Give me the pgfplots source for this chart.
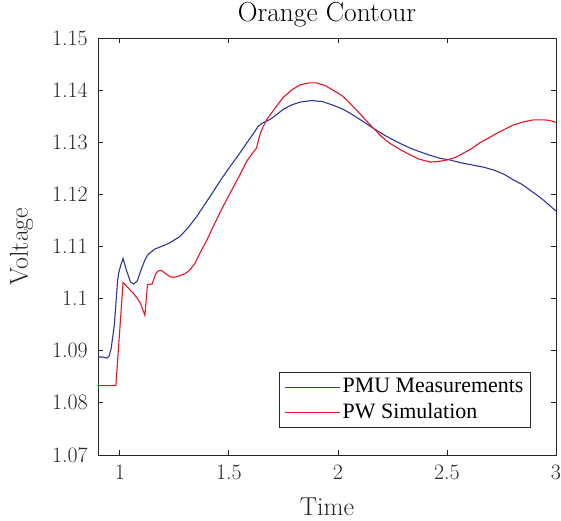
\documentclass[border=0pt]{standalone}
\usepackage{pgfplots}
\pgfplotsset{compat=1.18}
\usepackage{fontspec}
\newfontfamily\timesfont{Liberation Serif}
\definecolor{pmublue}{RGB}{45,55,155}
\definecolor{pwred}{RGB}{232,20,35}
\definecolor{axgray}{RGB}{38,38,38}
\begin{document}
\fontsize{21.5}{24}\selectfont
\begin{tikzpicture}
\begin{axis}[
  at={(0,0)}, anchor=south west,
  scale only axis,
  width=458bp, height=417bp,
  xmin=0.9, xmax=3, ymin=1.07, ymax=1.15,
  xtick={1,1.5,2,2.5,3},
  ytick={1.07,1.08,1.09,1.1,1.11,1.12,1.13,1.14,1.15},
  yticklabels={1.07,1.08,1.09,1.1,1.11,1.12,1.13,1.14,1.15},
  xticklabels={1,1.5,2,2.5,3},
  tick align=inside,
  major tick length=5bp,
  axis line style={axgray, line width=0.8bp},
  every tick/.style={axgray, line width=0.8bp},
  tick label style={font=\fontsize{22}{24}\selectfont, text=axgray},
  xticklabel style={yshift=-3bp},
  yticklabel style={xshift=-3bp},
  title={Orange Contour},
  title style={font=\fontsize{27.5}{30}\selectfont, at={(axis description cs:0.5,1.026)}, anchor=base},
  xlabel={Time},
  xlabel style={font=\fontsize{26}{30}\selectfont, text=axgray, at={(axis description cs:0.5,-0.144)}, anchor=base},
  ylabel={Voltage},
  ylabel style={font=\fontsize{26}{30}\selectfont, text=axgray, at={(axis description cs:-0.153,0.5)}, anchor=base},
  legend style={at={(rel axis cs:0.945,0.065)}, anchor=south east,
    draw=axgray, line width=0.6bp, fill=white,
    font=\timesfont\fontsize{22}{24}\selectfont,
    inner xsep=5bp, inner ysep=4bp, row sep=3bp},
  legend cell align=left,
  legend image code/.code={\draw[#1] (0bp,0bp) -- (55bp,0bp);},
]
\addplot[pmublue, line width=1.1bp] coordinates {
(0.90,1.0888) (0.92,1.0888) (0.94,1.0886) (0.95,1.0889) (0.96,1.0903) (0.975,1.0950) (0.99,1.1035) (0.995,1.1049) (1.005,1.1065) (1.015,1.1077) (1.03,1.1055) (1.049,1.1032) (1.064,1.1028) (1.08,1.1034) (1.10,1.1058) (1.115,1.1074) (1.13,1.1085) (1.16,1.1095) (1.19,1.1100) (1.22,1.1105) (1.252,1.1113) (1.275,1.1119) (1.313,1.1136) (1.352,1.1157) (1.39,1.1181) (1.428,1.1205) (1.465,1.1229) (1.505,1.1253) (1.545,1.1276) (1.581,1.1298) (1.61,1.1315) (1.634,1.1330) (1.65,1.1336) (1.665,1.1339) (1.69,1.1344) (1.719,1.1353) (1.749,1.1363) (1.79,1.1372) (1.826,1.1377) (1.879,1.1380) (1.93,1.1378) (1.978,1.1371) (2.02,1.1364) (2.055,1.1356) (2.10,1.1344) (2.162,1.1327) (2.22,1.1312) (2.284,1.1298) (2.33,1.1289) (2.361,1.1284) (2.422,1.1275) (2.47,1.1269) (2.514,1.1266) (2.56,1.1261) (2.621,1.1256) (2.67,1.1252) (2.712,1.1247) (2.76,1.1239) (2.804,1.1228) (2.845,1.1219) (2.881,1.1208) (2.912,1.1199) (2.942,1.1189) (2.97,1.1179) (3.0,1.1168)
};
\addlegendentry{PMU Measurements}
\addplot[pwred, line width=1.1bp] coordinates {
(0.90,1.0833) (0.982,1.0833) (1.015,1.1031) (1.04,1.1020) (1.069,1.1007) (1.095,1.0991) (1.115,1.0968) (1.127,1.1027) (1.148,1.1028) (1.165,1.1048) (1.176,1.1053) (1.191,1.1054) (1.21,1.1048) (1.23,1.1042) (1.25,1.1041) (1.275,1.1044) (1.30,1.1048) (1.321,1.1055) (1.345,1.1068) (1.367,1.1087) (1.40,1.1113) (1.428,1.1138) (1.465,1.1170) (1.505,1.1202) (1.545,1.1233) (1.581,1.1263) (1.61,1.1280) (1.627,1.1289) (1.642,1.1314) (1.655,1.1328) (1.673,1.1343) (1.711,1.1365) (1.749,1.1386) (1.79,1.1401) (1.826,1.1410) (1.87,1.1414) (1.90,1.1414) (1.94,1.1409) (1.978,1.1400) (2.02,1.1389) (2.055,1.1375) (2.10,1.1355) (2.162,1.1327) (2.20,1.1311) (2.238,1.1298) (2.29,1.1285) (2.33,1.1276) (2.37,1.1268) (2.422,1.1262) (2.46,1.1263) (2.499,1.1266) (2.54,1.1271) (2.575,1.1279) (2.61,1.1287) (2.651,1.1299) (2.69,1.1308) (2.728,1.1317) (2.77,1.1326) (2.804,1.1333) (2.85,1.1339) (2.896,1.1343) (2.942,1.1343) (2.97,1.1342) (3.0,1.1338)
};
\addlegendentry{PW Simulation}
\end{axis}
\pgfresetboundingbox
\path[use as bounding box] (-98bp,-66bp) rectangle (463bp,455bp);
\end{tikzpicture}
\end{document}
